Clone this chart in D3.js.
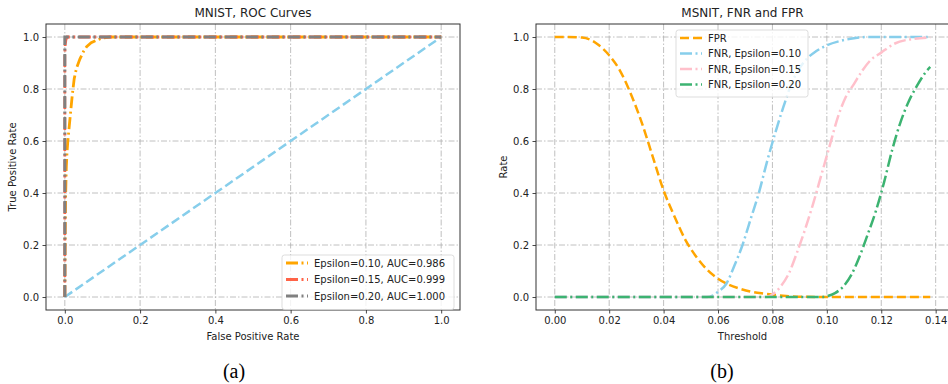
<!DOCTYPE html>
<html>
<head>
<meta charset="utf-8">
<script src="https://cdn.jsdelivr.net/npm/d3@7"></script>
<style>
  html, body { margin: 0; padding: 0; background: #fff; }
  svg { display: block; font-family: "DejaVu Sans", sans-serif; }
</style>
</head>
<body>
<div id="chart"></div>
<script>
// ROC curves (panel a)
const rocDiagFpr = [0, 1];
const rocDiagTpr = [0, 1];
const roc10Fpr = [0, 0.001, 0.002, 0.004, 0.006, 0.008, 0.012, 0.016, 0.020, 0.025, 0.031, 0.040, 0.050, 0.058, 0.070, 0.085, 0.100, 0.120, 0.4, 0.7, 1.0];
const roc10Tpr = [0, 0.25, 0.38, 0.50, 0.56, 0.60, 0.66, 0.72, 0.78, 0.84, 0.88, 0.915, 0.945, 0.963, 0.978, 0.988, 0.996, 1.0, 1.0, 1.0, 1.0];
const roc15Fpr = [0, 0, 0.001, 0.003, 0.006, 1.0];
const roc15Tpr = [0, 0.93, 0.97, 0.99, 1.0, 1.0];
const roc20Fpr = [0, 0, 1.0];
const roc20Tpr = [0, 1.0, 1.0];
const rocLabels = ["Epsilon=0.10, AUC=0.986", "Epsilon=0.15, AUC=0.999", "Epsilon=0.20, AUC=1.000"];

// FNR / FPR vs threshold (panel b)
const fprT = [0, 0.005, 0.010, 0.013, 0.016, 0.020, 0.024, 0.028, 0.032, 0.036, 0.040, 0.044, 0.048, 0.052, 0.056, 0.060, 0.064, 0.068, 0.072, 0.076, 0.080, 0.085, 0.090, 0.100, 0.110, 0.120, 0.130, 0.138];
const fprV = [1, 1, 0.998, 0.99, 0.97, 0.93, 0.87, 0.78, 0.67, 0.54, 0.41, 0.31, 0.22, 0.155, 0.105, 0.07, 0.047, 0.032, 0.021, 0.014, 0.009, 0.004, 0.001, 0, 0, 0, 0, 0];
const fnr10T = [0, 0.056, 0.058, 0.060, 0.063, 0.066, 0.069, 0.072, 0.075, 0.078, 0.081, 0.084, 0.087, 0.090, 0.093, 0.096, 0.100, 0.105, 0.110, 0.115, 0.125, 0.138];
const fnr10V = [0, 0, 0.005, 0.02, 0.05, 0.12, 0.20, 0.30, 0.40, 0.52, 0.63, 0.73, 0.82, 0.88, 0.92, 0.945, 0.968, 0.985, 0.995, 1, 1, 1];
const fnr15T = [0, 0.078, 0.080, 0.083, 0.086, 0.089, 0.092, 0.095, 0.098, 0.101, 0.104, 0.107, 0.110, 0.113, 0.116, 0.120, 0.125, 0.130, 0.138];
const fnr15V = [0, 0, 0.01, 0.04, 0.09, 0.17, 0.26, 0.36, 0.47, 0.58, 0.69, 0.77, 0.82, 0.87, 0.91, 0.94, 0.975, 0.99, 0.998];
const fnr20T = [0, 0.098, 0.100, 0.103, 0.106, 0.109, 0.112, 0.115, 0.118, 0.121, 0.124, 0.127, 0.130, 0.133, 0.136, 0.138];
const fnr20V = [0, 0, 0.003, 0.015, 0.04, 0.085, 0.155, 0.24, 0.33, 0.44, 0.565, 0.67, 0.75, 0.81, 0.86, 0.885];
const rateLabels = ["FPR", "FNR, Epsilon=0.10", "FNR, Epsilon=0.15", "FNR, Epsilon=0.20"];

const rocTicks = [0, 0.2, 0.4, 0.6, 0.8, 1.0];
const thrTicks = [0, 0.02, 0.04, 0.06, 0.08, 0.10, 0.12, 0.14];

const W = 948, H = 384;
const DASH = "9,4";
const DASHDOT = "12,3.5,2,3.5";
const textColor = "#222";

const svg = d3.select("#chart").append("svg")
  .attr("width", W)
  .attr("height", H);

const zip = (xs, ys) => xs.map((x, i) => [x, ys[i]]);

function drawPanel(opts) {
  const { x, y, xTicks, xFmt, title, xLabel, yLabel, yLabelX, caption } = opts;
  const [x0, x1] = x.range();
  const [y0, y1] = y.range();
  const g = svg.append("g");

  // grid
  g.append("g").selectAll("line.gx").data(xTicks).enter().append("line")
    .attr("x1", d => x(d)).attr("x2", d => x(d))
    .attr("y1", y1).attr("y2", y0)
    .attr("stroke", "#b0b0b0").attr("stroke-width", 0.8)
    .attr("stroke-dasharray", "6,2,1.5,2");
  g.append("g").selectAll("line.gy").data(rocTicks).enter().append("line")
    .attr("x1", x0).attr("x2", x1)
    .attr("y1", d => y(d)).attr("y2", d => y(d))
    .attr("stroke", "#b0b0b0").attr("stroke-width", 0.8)
    .attr("stroke-dasharray", "6,2,1.5,2");

  const lines = g.append("g");

  // axes
  const ax = g.append("g")
    .attr("transform", `translate(0,${y0})`)
    .call(d3.axisBottom(x).tickValues(xTicks).tickFormat(xFmt).tickSizeInner(3.5).tickSizeOuter(0).tickPadding(3.5));
  const ay = g.append("g")
    .attr("transform", `translate(${x0},0)`)
    .call(d3.axisLeft(y).tickValues(rocTicks).tickFormat(d3.format(".1f")).tickSizeInner(3.5).tickSizeOuter(0).tickPadding(3.5));
  [ax, ay].forEach(a => {
    a.select(".domain").remove();
    a.selectAll("line").attr("stroke", "#333").attr("stroke-width", 0.9);
    a.selectAll("text").attr("fill", textColor).style("font-size", "10px").style("font-family", "DejaVu Sans");
  });

  g.append("rect")
    .attr("x", x0).attr("y", y1)
    .attr("width", x1 - x0).attr("height", y0 - y1)
    .attr("fill", "none").attr("stroke", "#333").attr("stroke-width", 1);

  g.append("text")
    .attr("x", (x0 + x1) / 2).attr("y", 17)
    .attr("text-anchor", "middle").attr("fill", textColor)
    .style("font-size", "12px").text(title);
  g.append("text")
    .attr("x", (x0 + x1) / 2).attr("y", 340)
    .attr("text-anchor", "middle").attr("fill", textColor)
    .style("font-size", "10px").text(xLabel);
  g.append("text")
    .attr("transform", `translate(${yLabelX},${(y0 + y1) / 2}) rotate(-90)`)
    .attr("text-anchor", "middle").attr("fill", textColor)
    .style("font-size", "10px").text(yLabel);
  g.append("text")
    .attr("x", caption.x).attr("y", 378)
    .attr("text-anchor", "middle").attr("fill", "#000")
    .style("font-family", "'Liberation Serif', 'Times New Roman', serif")
    .style("font-size", "20px").text(caption.text);

  return lines;
}

function addLegend(entries, bx, by, bw, rowH) {
  const lg = svg.append("g");
  const bh = entries.length * rowH + 5;
  lg.append("rect")
    .attr("x", bx).attr("y", by).attr("width", bw).attr("height", bh)
    .attr("rx", 2.5)
    .attr("fill", "rgba(255,255,255,0.8)").attr("stroke", "#d4d4d4").attr("stroke-width", 0.8);
  entries.forEach((e, i) => {
    const cy = by + 8 + i * rowH;
    lg.append("line")
      .attr("x1", bx + 4).attr("x2", bx + 26)
      .attr("y1", cy).attr("y2", cy)
      .attr("stroke", e.color).attr("stroke-width", e.width)
      .attr("stroke-dasharray", e.dash);
    lg.append("text")
      .attr("x", bx + 32).attr("y", cy).attr("dy", "0.35em")
      .attr("fill", textColor).style("font-size", "10px").text(e.label);
  });
}

// ---- panel (a)
const xa = d3.scaleLinear().domain([-0.05, 1.05]).range([46, 460]);
const ya = d3.scaleLinear().domain([-0.05, 1.05]).range([310, 24]);
const la = drawPanel({
  x: xa, y: ya, xTicks: rocTicks, xFmt: d3.format(".1f"),
  title: "MNIST, ROC Curves", xLabel: "False Positive Rate", yLabel: "True Positive Rate",
  yLabelX: 16, caption: { x: 234, text: "(a)" }
});
const lineA = d3.line().x(d => xa(d[0])).y(d => ya(d[1]));
const rocSeries = [
  { pts: zip(rocDiagFpr, rocDiagTpr), color: "skyblue", width: 2.5, dash: DASH },
  { pts: zip(roc10Fpr, roc10Tpr), color: "orange", width: 2.8, dash: DASHDOT, label: rocLabels[0] },
  { pts: zip(roc15Fpr, roc15Tpr), color: "tomato", width: 2.8, dash: DASHDOT, label: rocLabels[1] },
  { pts: zip(roc20Fpr, roc20Tpr), color: "gray", width: 3, dash: DASHDOT, label: rocLabels[2] }
];
const rocPaths = rocSeries.map(s => la.append("path")
  .attr("d", lineA(s.pts))
  .attr("fill", "none").attr("stroke", s.color)
  .attr("stroke-width", s.width).attr("stroke-dasharray", s.dash));
// split the small dash-phase gap between red and gray so red stays hidden under gray
const lenRed = rocPaths[2].node().getTotalLength();
const lenGray = rocPaths[3].node().getTotalLength();
rocPaths[2].attr("stroke-dashoffset", (lenGray - lenRed) / 2);
addLegend(rocSeries.slice(1), 282, 255, 172, 16.5);

// ---- panel (b)
const xb = d3.scaleLinear().domain([-0.0069, 0.1449]).range([536, 949]);
const yb = d3.scaleLinear().domain([-0.05, 1.05]).range([310, 24]);
const lb = drawPanel({
  x: xb, y: yb, xTicks: thrTicks, xFmt: d3.format(".2f"),
  title: "MSNIT, FNR and FPR", xLabel: "Threshold", yLabel: "Rate",
  yLabelX: 507, caption: { x: 722, text: "(b)" }
});
const lineB = d3.line().x(d => xb(d[0])).y(d => yb(d[1])).curve(d3.curveMonotoneX);
const rateSeries = [
  { pts: zip(fprT, fprV), color: "orange", width: 2.5, dash: DASH, label: rateLabels[0] },
  { pts: zip(fnr10T, fnr10V), color: "skyblue", width: 2.5, dash: DASHDOT, label: rateLabels[1] },
  { pts: zip(fnr15T, fnr15V), color: "pink", width: 2.5, dash: DASHDOT, label: rateLabels[2] },
  { pts: zip(fnr20T, fnr20V), color: "mediumseagreen", width: 2.5, dash: DASHDOT, label: rateLabels[3] }
];
rateSeries.forEach(s => {
  lb.append("path")
    .attr("d", lineB(s.pts))
    .attr("fill", "none").attr("stroke", s.color)
    .attr("stroke-width", s.width).attr("stroke-dasharray", s.dash);
});
addLegend(rateSeries, 676, 30, 132, 15.5);
</script>
</body>
</html>
